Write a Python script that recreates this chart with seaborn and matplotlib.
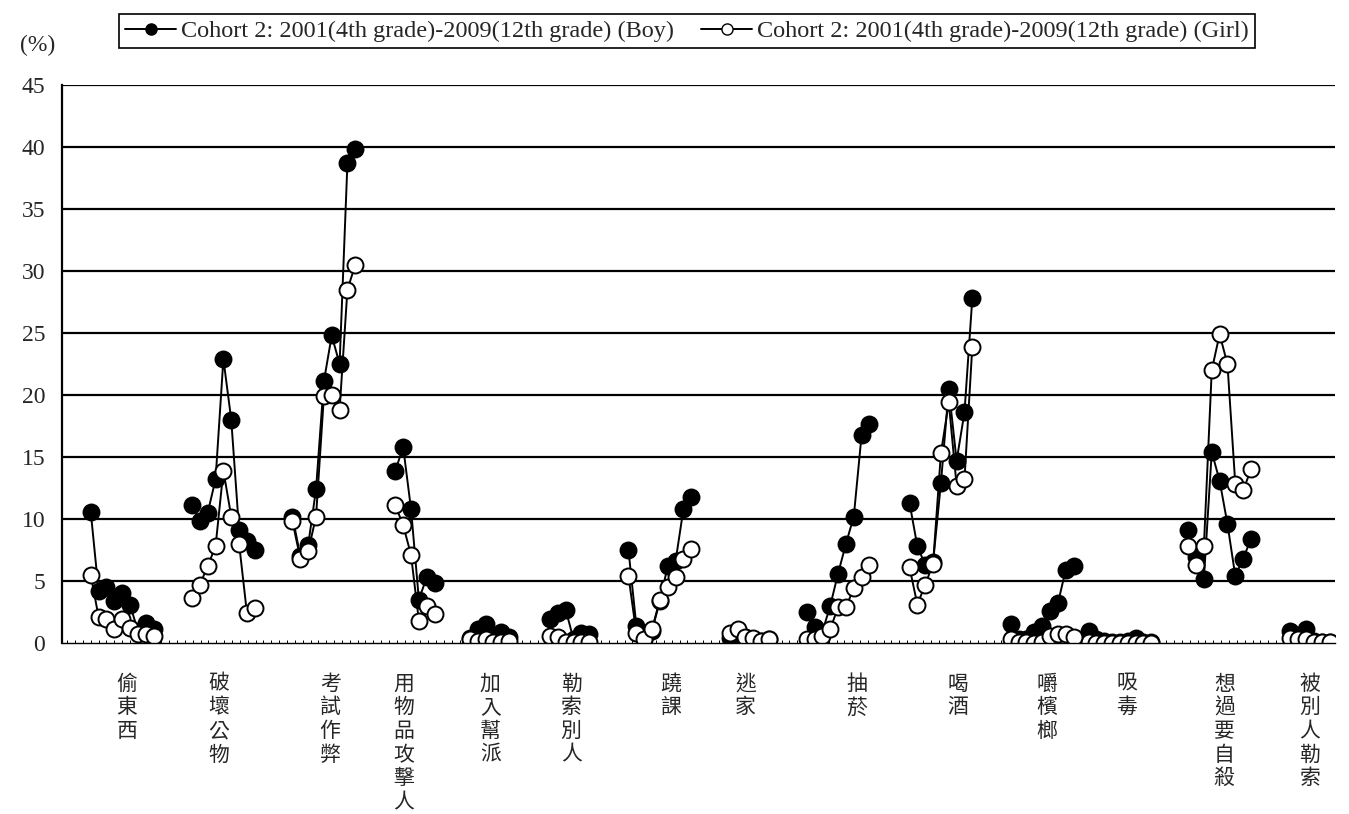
import matplotlib
matplotlib.use("Agg")
import matplotlib.pyplot as plt
import matplotlib.transforms as mtransforms
from matplotlib.lines import Line2D
from matplotlib.ticker import MultipleLocator, NullLocator
import pandas as pd
import seaborn as sns

# ---- data (percent, grades 4..12; six-value items start at grade 7) ----
CATEGORIES = ["偷東西", "破壞公物", "考試作弊", "用物品攻擊人", "加入幫派", "勒索別人", "蹺課",
              "逃家", "抽菸", "喝酒", "嚼檳榔", "吸毒", "想過要自殺", "被別人勒索"]

BOY = [
    [10.6, 4.2, 4.5, 3.4, 4.0, 3.1, 1.0, 1.6, 1.1],
    [11.1, 9.8, 10.5, 13.2, 22.9, 18.0, 9.1, 8.2, 7.5],
    [10.2, 7.0, 7.9, 12.4, 21.1, 24.8, 22.5, 38.7, 39.8],
    [13.9, 15.8, 10.8, 3.5, 5.3, 4.8],
    [0.4, 1.1, 1.5, 0.4, 0.9, 0.5],
    [1.9, 2.4, 2.7, 0.3, 0.8, 0.7],
    [7.5, 1.4, 0.3, 1.0, 3.4, 6.2, 6.6, 10.8, 11.8],
    [0.4, 0.9, 0.5, 0.1, 0.2, 0.3],
    [2.5, 1.3, 0.9, 3.0, 5.6, 8.0, 10.2, 16.8, 17.7],
    [11.3, 7.8, 6.3, 6.5, 12.9, 20.5, 14.7, 18.6, 27.8],
    [1.5, 0.3, 0.3, 0.9, 1.4, 2.6, 3.2, 5.9, 6.2],
    [1.0, 0.3, 0.2, 0.1, 0.1, 0.2, 0.4, 0.1, 0.1],
    [9.1, 6.9, 5.2, 15.4, 13.1, 9.6, 5.4, 6.8, 8.4],
    [1.0, 0.5, 1.1, 0.2, 0.1, 0.1],
]

GIRL = [
    [5.5, 2.1, 1.9, 1.1, 1.9, 1.2, 0.7, 0.7, 0.6],
    [3.6, 4.7, 6.2, 7.8, 13.9, 10.2, 8.0, 2.4, 2.8],
    [9.8, 6.8, 7.4, 10.2, 19.9, 20.0, 18.8, 28.5, 30.5],
    [11.1, 9.5, 7.1, 1.8, 3.0, 2.3],
    [0.3, 0.2, 0.3, 0.1, 0.1, 0.2],
    [0.6, 0.5, 0.1, 0.1, 0.1, 0.1],
    [5.4, 0.8, 0.3, 1.1, 3.5, 4.5, 5.3, 6.8, 7.6],
    [0.8, 1.1, 0.5, 0.4, 0.2, 0.3],
    [0.3, 0.3, 0.6, 1.1, 2.9, 2.9, 4.4, 5.3, 6.3],
    [6.1, 3.1, 4.7, 6.4, 15.3, 19.4, 12.7, 13.2, 23.9],
    [0.3, 0.1, 0.1, 0.0, 0.1, 0.6, 0.7, 0.7, 0.5],
    [0.1, 0.0, 0.0, 0.0, 0.0, 0.0, 0.0, 0.0, 0.0],
    [7.8, 6.3, 7.8, 22.0, 24.9, 22.5, 12.8, 12.3, 14.0],
    [0.4, 0.3, 0.3, 0.1, 0.1, 0.1],
]

LABEL_BOY = "Cohort 2: 2001(4th grade)-2009(12th grade) (Boy)"
LABEL_GIRL = "Cohort 2: 2001(4th grade)-2009(12th grade) (Girl)"
Y_TICKS = list(range(0, 50, 5))

# ---- layout (x in "slot" units, one slot per grade) ----
CAT_START = [0, 12.9, 25.7, 38.8, 48.3, 58.5, 68.5, 81.4, 91.2, 104.3, 117.2, 127.1, 139.8, 152.8]
LABEL_POS = [4.6, 16.3, 30.5, 39.9, 50.9, 61.2, 73.9, 83.4, 97.6, 110.5, 121.8, 132.0, 144.4, 155.3]
X_LIM = (-3.66, 158.5)

rows = []
for i, cat in enumerate(CATEGORIES):
    for sex, series in (("Boy", BOY), ("Girl", GIRL)):
        vals = series[i]
        first_grade = 13 - len(vals)
        for j, v in enumerate(vals):
            rows.append({"cat": cat, "sex": sex, "grade": first_grade + j,
                         "x": CAT_START[i] + j, "value": v})
df = pd.DataFrame(rows)

sns.set_theme(style="white")
plt.rcParams["font.family"] = ["Liberation Serif", "Noto Sans CJK TC"]

W, H = 1349, 814
fig = plt.figure(figsize=(W / 100, H / 100), dpi=100)
ax = fig.add_axes([62 / W, 1 - 643 / H, (1335 - 62) / W, (643 - 85) / H])

for sex, face in (("Boy", "black"), ("Girl", "white")):
    sns.lineplot(
        data=df[df["sex"] == sex], x="x", y="value", units="cat",
        estimator=None, sort=False, color="black", lw=1.4,
        marker="o", markersize=11.5, markerfacecolor=face,
        markeredgecolor="black", markeredgewidth=1.4,
        legend=False, ax=ax,
    )

ax.set_ylim(0, 45)
ax.set_xlim(*X_LIM)
ax.set_yticks(Y_TICKS)
ax.set_yticklabels([str(t) for t in Y_TICKS], fontsize=17)
ax.yaxis.grid(True, color="black", lw=1.6)
ax.yaxis.get_gridlines()[0].set_visible(False)
ax.set_axisbelow(True)
ax.tick_params(axis="y", length=0, pad=12)
ax.xaxis.set_major_locator(NullLocator())
ax.xaxis.set_minor_locator(MultipleLocator(1))
ax.tick_params(axis="x", which="minor", direction="in", length=2, width=0.7,
               color="black", bottom=True)
ax.set_xlabel("")
ax.set_ylabel("")
for side in ("top", "right"):
    ax.spines[side].set_visible(False)
ax.spines["left"].set_color("black")
ax.spines["left"].set_linewidth(1.6)
ax.spines["bottom"].set_color("black")
ax.spines["bottom"].set_linewidth(1.0)

trans = mtransforms.blended_transform_factory(ax.transData, ax.transAxes)
for cat, pos in zip(CATEGORIES, LABEL_POS):
    ax.text(pos, -0.053, "\n".join(cat), transform=trans, ha="center", va="top",
            fontsize=15, family="Noto Sans CJK TC", linespacing=1.1)

fig.text(20 / W, 1 - 45 / H, "(%)", fontsize=17, va="center", ha="left")

handles = [
    Line2D([], [], color="black", lw=1.4, marker="o", markersize=8,
           markerfacecolor="black", markeredgecolor="black"),
    Line2D([], [], color="black", lw=1.4, marker="o", markersize=8,
           markerfacecolor="white", markeredgecolor="black"),
]
leg = fig.legend(handles, [LABEL_BOY, LABEL_GIRL], loc="upper center",
                 bbox_to_anchor=(687 / W, 1 - 14 / H), ncol=2, fontsize=17.5,
                 frameon=True, fancybox=False, framealpha=1, edgecolor="black",
                 handlelength=2.1, handletextpad=0.2, columnspacing=1.1,
                 borderpad=0.25, borderaxespad=0)
leg.get_frame().set_linewidth(1.2)

fig.savefig("out.png", dpi=100)
